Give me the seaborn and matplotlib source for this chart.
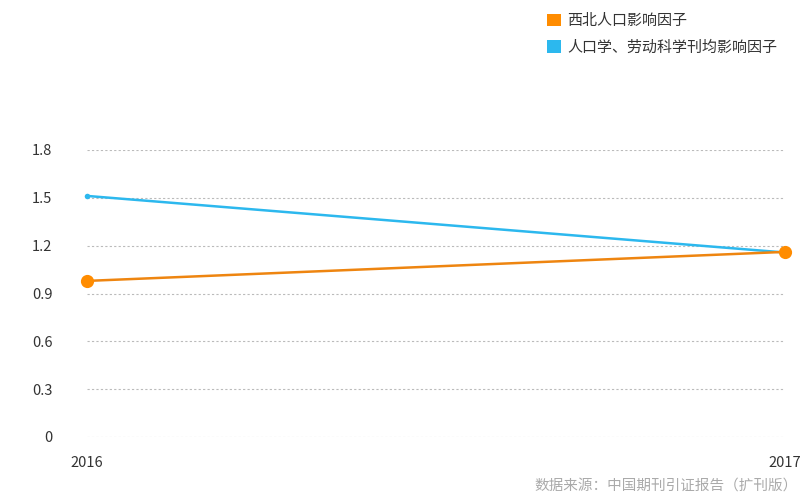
import pandas as pd
import matplotlib
matplotlib.use('Agg')
import matplotlib.pyplot as plt
from matplotlib.patches import Patch
import seaborn as sns

years = [2016, 2017]
series_names = ['西北人口影响因子', '人口学、劳动科学刊均影响因子']
xibei = [0.979, 1.161]
renkou = [1.512, 1.157]
yticks = [0, 0.3, 0.6, 0.9, 1.2, 1.5, 1.8]
ytick_labels = ['0', '0.3', '0.6', '0.9', '1.2', '1.5', '1.8']

sns.set_style('white')
plt.rcParams['font.family'] = ['Noto Sans CJK SC', 'DejaVu Sans']

df = pd.DataFrame({
    'year': years * 2,
    'value': xibei + renkou,
    'series': [series_names[0]] * 2 + [series_names[1]] * 2,
})

fig = plt.figure(figsize=(8.1, 5.0), dpi=100)
ax = fig.add_axes([87 / 810, 63 / 500, 698 / 810, 287 / 500])

# blue line first, orange on top
sns.lineplot(data=df[df['series'] == series_names[1]], x='year', y='value',
             color='#2cb8ee', linewidth=1.8, marker='o', markersize=4,
             markeredgewidth=0, ax=ax, legend=False, zorder=3, clip_on=False)
sns.lineplot(data=df[df['series'] == series_names[0]], x='year', y='value',
             color='#ee8510', linewidth=1.8, marker='o', markersize=9.5,
             markerfacecolor='#ff8c00', markeredgewidth=0, ax=ax,
             legend=False, zorder=4, clip_on=False)

ax.set_xlim(2016, 2017)
ax.set_ylim(0, 1.8)
ax.set_xticks(years)
ax.set_xticklabels([str(y) for y in years])
ax.set_yticks(yticks)
ax.set_yticklabels(ytick_labels)
ax.set_xlabel('')
ax.set_ylabel('')
ax.grid(axis='y', color='#bbbbbb', linestyle=(0, (2, 2)), linewidth=0.8)
ax.grid(axis='x', visible=False)
for s in ax.spines.values():
    s.set_visible(False)
ax.tick_params(axis='both', length=0, labelsize=10.5, colors='#333333')
ax.tick_params(axis='y', pad=25)
ax.tick_params(axis='x', pad=14)

handles = [Patch(facecolor='#ff8c00', edgecolor='none'),
           Patch(facecolor='#2cb8ee', edgecolor='none')]
fig.legend(handles, series_names, loc='upper left',
           bbox_to_anchor=(533 / 810, 1 - 0 / 500), frameon=False,
           fontsize=10.8, handlelength=0.95, handleheight=0.95,
           handletextpad=0.45, labelspacing=0.8, labelcolor='#333333')

fig.text(0.985, 0.015, '数据来源：中国期刊引证报告（扩刊版）', ha='right', va='bottom',
         fontsize=10.5, color='#aaaaaa')

fig.savefig('out.png', dpi=100)
